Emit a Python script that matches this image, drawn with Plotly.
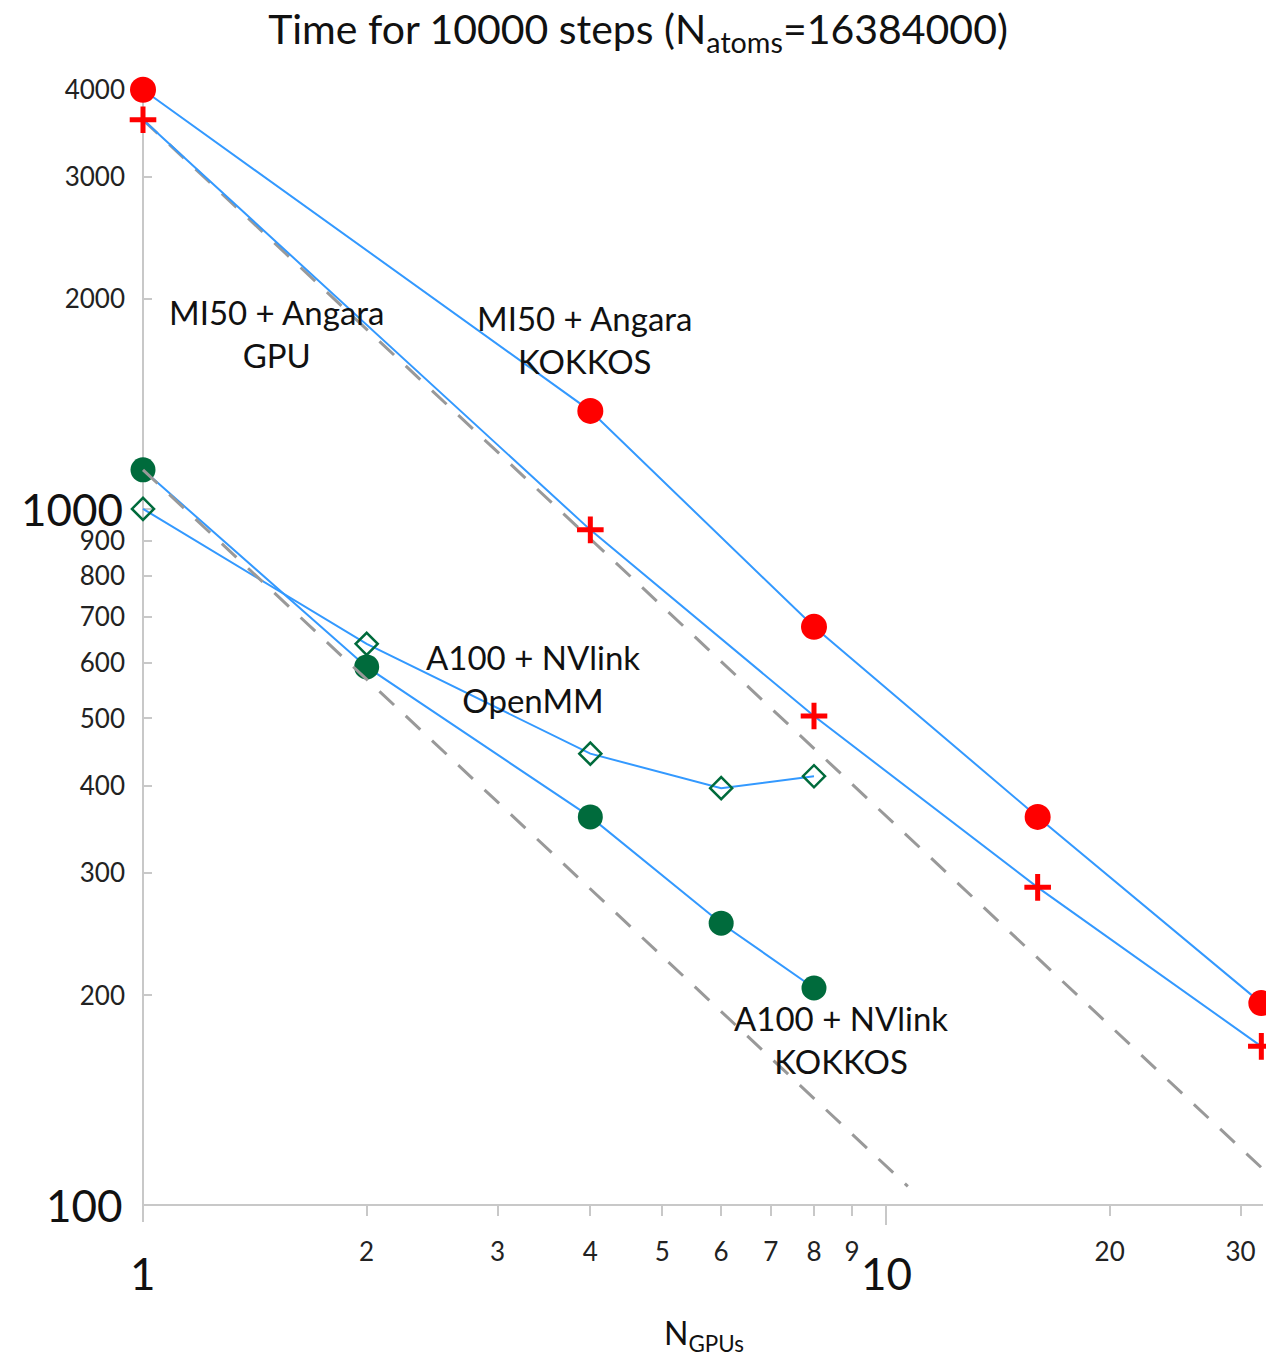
import math
import plotly.graph_objects as go

# ---- data ----
gpus_mi50 = [1, 4, 8, 16, 32]
mi50_kokkos = [4000, 1383, 677, 361, 195]
mi50_gpu = [3622, 933, 504, 286, 169]

gpus_a100 = [1, 2, 4, 6, 8]
a100_kokkos = [1138, 593, 361, 254, 205]
a100_openmm = [1000, 640, 445, 397, 413]

ideal_mi50_x = [1, 32]
ideal_a100_x = [1, 10.7]

x_tickvals = [1, 2, 3, 4, 5, 6, 7, 8, 9, 20, 30]
x_ticktext = ["", "2", "3", "4", "5", "6", "7", "8", "9", "20", "30"]
y_tickvals = [100, 200, 300, 400, 500, 600, 700, 800, 900, 1000, 2000, 3000, 4000]
y_ticktext = ["", "200", "300", "400", "500", "600", "700", "800", "900", "", "2000", "3000", "4000"]

FONT = "Lato"
BLUE = "#3399FF"
RED = "#FF0000"
GREEN = "#006B3C"
GRAY_AX = "#C8C8C8"

fig = go.Figure()

# A100 series
fig.add_trace(go.Scatter(x=gpus_a100, y=a100_openmm, mode="lines+markers",
                         line=dict(color=BLUE, width=2),
                         marker=dict(symbol="diamond-open", size=17, color=GREEN,
                                     line=dict(color=GREEN, width=2.5)),
                         name="A100 + NVlink OpenMM"))
fig.add_trace(go.Scatter(x=gpus_a100, y=a100_kokkos, mode="lines+markers",
                         line=dict(color=BLUE, width=2),
                         marker=dict(symbol="circle", size=25, color=GREEN),
                         name="A100 + NVlink KOKKOS"))

# ideal scaling (dashed)
fig.add_trace(go.Scatter(x=ideal_a100_x, y=[a100_kokkos[0] / v for v in ideal_a100_x],
                         mode="lines", line=dict(color="#999999", width=3, dash="20px,16px"),
                         name="ideal A100"))
fig.add_trace(go.Scatter(x=ideal_mi50_x, y=[mi50_gpu[0] / v for v in ideal_mi50_x],
                         mode="lines", line=dict(color="#999999", width=3, dash="20px,16px"),
                         name="ideal MI50"))

# MI50 series
fig.add_trace(go.Scatter(x=gpus_mi50, y=mi50_kokkos, mode="lines+markers",
                         line=dict(color=BLUE, width=2),
                         marker=dict(symbol="circle", size=26, color=RED),
                         name="MI50 + Angara KOKKOS"))
fig.add_trace(go.Scatter(x=gpus_mi50, y=mi50_gpu, mode="lines+markers",
                         line=dict(color=BLUE, width=2),
                         marker=dict(symbol="cross-thin", size=19, color=RED,
                                     line=dict(color=RED, width=5)),
                         name="MI50 + Angara GPU"))

W, H = 1276, 1359
AX0 = 143            # pixel x of N=1
DEC_X = 743          # pixels per decade on x
L, R, T, B = 110, 10, 61, 154
pw = W - L - R
ph = H - T - B
x_lo = -(AX0 - L) / DEC_X
x_hi = x_lo + pw / DEC_X
ypos = (AX0 - L) / pw
y_axis_top = (1205 - 90) / ph


def px2paper_x(px):
    return (px - L) / pw


def py2paper_y(py):
    return (1205 - py) / ph


fig.update_layout(
    width=W, height=H,
    margin=dict(l=L, r=R, t=T, b=B, pad=0),
    paper_bgcolor="white", plot_bgcolor="white",
    showlegend=False,
    font=dict(family=FONT, color="#1a1a1a"),
    title=dict(text="Time for 10000 steps (N<sub>atoms</sub>=16384000)",
               x=0.5, xref="container", xanchor="center",
               y=1 - 30 / H, yref="container", yanchor="middle",
               font=dict(family=FONT, size=41, color="#111111")),
    xaxis=dict(type="log", range=[x_lo, x_hi], layer="below traces",
               showgrid=False, zeroline=False, showline=False,
               ticks="outside", ticklen=10, tickwidth=2, tickcolor=GRAY_AX,
               tickmode="array", tickvals=x_tickvals, ticktext=x_ticktext,
               tickfont=dict(family=FONT, size=26, color="#222222"),
               ticklabelstandoff=14),
    yaxis=dict(type="log", range=[2, math.log10(4400)], layer="below traces",
               anchor="free", position=ypos,
               showgrid=False, zeroline=False, showline=False,
               ticks="inside", ticklen=8, tickwidth=2, tickcolor=GRAY_AX,
               tickmode="array", tickvals=y_tickvals, ticktext=y_ticktext,
               tickfont=dict(family=FONT, size=26, color="#222222"),
               ticklabelstandoff=18),
)

# axis lines (y line extends a little below the x axis), major x tick at 10
fig.add_shape(type="line", xref="paper", yref="paper", x0=ypos, x1=ypos,
              y0=-17 / ph, y1=y_axis_top, line=dict(color=GRAY_AX, width=2), layer="below")
fig.add_shape(type="line", xref="paper", yref="paper", x0=ypos, x1=px2paper_x(1263),
              y0=0, y1=0, line=dict(color=GRAY_AX, width=2), layer="below")
x10 = px2paper_x(AX0 + DEC_X)
fig.add_shape(type="line", xref="paper", yref="paper", x0=x10, x1=x10,
              y0=0, y1=-20 / ph, line=dict(color=GRAY_AX, width=2), layer="below")

# large tick labels
big = dict(family=FONT, size=44, color="#111111")
fig.add_annotation(x=ypos, xref="paper", y=3, yref="y", text="1000", showarrow=False,
                   xanchor="right", yanchor="middle", xshift=-18, font=big)
fig.add_annotation(x=ypos, xref="paper", y=2, yref="y", text="100", showarrow=False,
                   xanchor="right", yanchor="middle", xshift=-18, font=big)
fig.add_annotation(x=0, xref="x", y=py2paper_y(1273), yref="paper", text="1",
                   showarrow=False, xanchor="center", yanchor="middle", font=big)
fig.add_annotation(x=1, xref="x", y=py2paper_y(1273), yref="paper", text="10",
                   showarrow=False, xanchor="center", yanchor="middle", font=big)

# axis title
fig.add_annotation(x=px2paper_x(704), xref="paper", y=py2paper_y(1335), yref="paper",
                   text="N<sub>GPUs</sub>", showarrow=False,
                   xanchor="center", yanchor="middle",
                   font=dict(family=FONT, size=32, color="#111111"))

# series labels
lab = dict(family=FONT, size=33, color="#111111")
labels = [
    ("MI50 + Angara<br>GPU", 277, 333),
    ("MI50 + Angara<br>KOKKOS", 585, 340),
    ("A100 + NVlink<br>OpenMM", 533, 678),
    ("A100 + NVlink<br>KOKKOS", 841, 1039),
]
for txt, px, py in labels:
    fig.add_annotation(x=px2paper_x(px), xref="paper",
                       y=py2paper_y(py), yref="paper",
                       text=txt, showarrow=False, xanchor="center", yanchor="middle",
                       font=lab)

fig.write_html("out.html")
